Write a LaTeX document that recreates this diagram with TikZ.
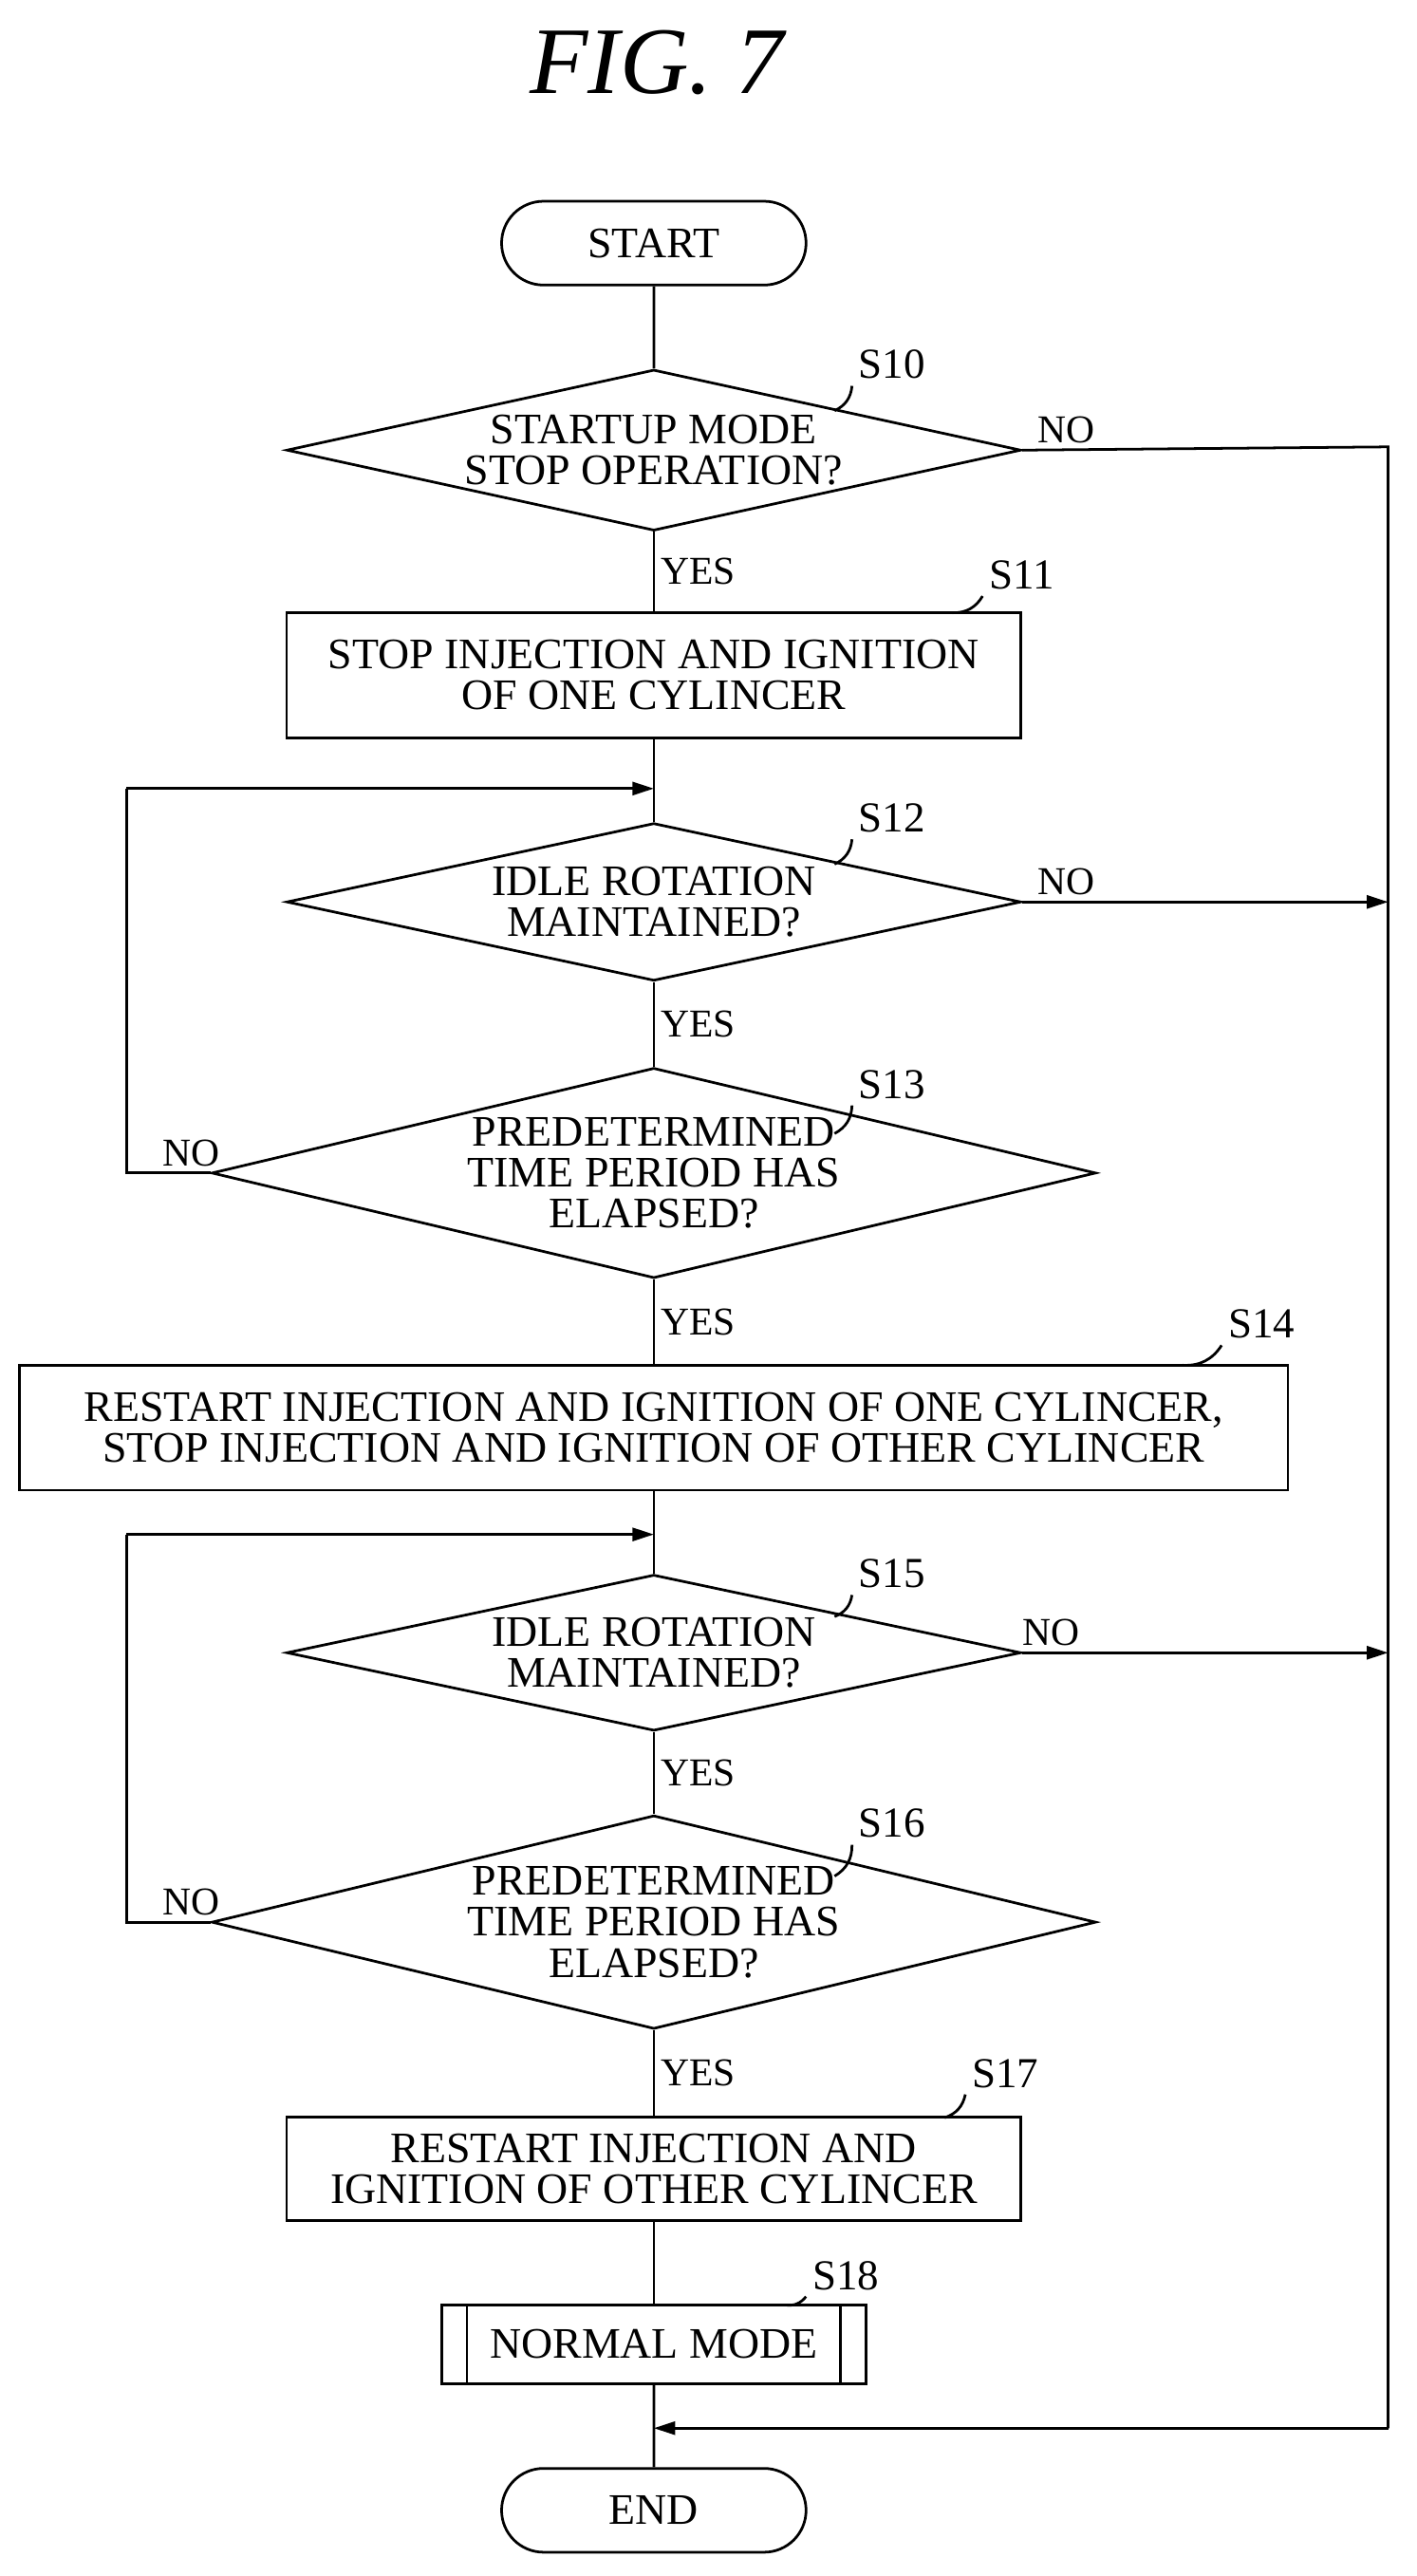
\documentclass[tikz,border=0pt]{standalone}
\usepackage{fontspec}
\setmainfont{Liberation Serif}
\usetikzlibrary{shapes.geometric,shapes.misc,arrows.meta}
\begin{document}
\begin{tikzpicture}[x=1pt,y=-1pt,line width=1.6pt,
  every node/.style={font=\fontsize{26.5}{25}\selectfont,align=center},
  dia/.style={draw,diamond,minimum width=447pt,minimum height=#1,aspect=4.6,inner sep=0pt},
  box/.style={draw,rectangle,minimum width=447pt,minimum height=#1,inner sep=2pt},
  term/.style={draw,rounded rectangle,minimum width=192pt,minimum height=51pt},
  arr/.style={-{Triangle[length=13pt,width=8pt]}},
  lbl/.style={font=\fontsize{26}{28}\selectfont},
  yn/.style={font=\fontsize{24}{26}\selectfont}]
\useasboundingbox (0,0) rectangle (862,1568);
\node[font=\fontsize{58}{60}\selectfont\itshape] (title) at (400,38) {FIG. 7};
\node[term] (start) at (398,148) {START};
\node[dia=98pt] (s10) at (398,274) {STARTUP MODE\\STOP OPERATION?};
\node[box=76pt] (s11) at (398,411) {STOP INJECTION AND IGNITION\\OF ONE CYLINCER};
\node[dia=96pt] (s12) at (398,549) {IDLE ROTATION\\MAINTAINED?};
\node[dia=128pt] (s13) at (398,714) {PREDETERMINED\\TIME PERIOD HAS\\ELAPSED?};
\node[draw,minimum width=772pt,minimum height=76pt] (s14) at (398,869) {RESTART INJECTION AND IGNITION OF ONE CYLINCER,\\STOP INJECTION AND IGNITION OF OTHER CYLINCER};
\node[dia=95pt] (s15) at (398,1006) {IDLE ROTATION\\MAINTAINED?};
\node[dia=130pt] (s16) at (398,1170) {PREDETERMINED\\TIME PERIOD HAS\\ELAPSED?};
\node[box=63pt] (s17) at (398,1320) {RESTART INJECTION AND\\IGNITION OF OTHER CYLINCER};
\node[draw,minimum width=258pt,minimum height=48pt] (s18) at (398,1427) {NORMAL MODE};
\draw (s18.north west)++(16,0) -- ++(0,48);
\draw (s18.north east)++(-16,0) -- ++(0,48);
\node[term] (end) at (398,1528) {END};
% labels
\node[lbl] (l10) at (543,222) {S10}; \draw (508,250) to[bend right=30] (l10.south west);
\node[lbl] (l11) at (622,350) {S11}; \draw (580,373) to[bend right=30] (l11.south west);
\node[lbl] (l12) at (543,498) {S12}; \draw (508,526) to[bend right=30] (l12.south west);
\node[lbl] (l13) at (543,660) {S13}; \draw (508,690) to[bend right=30] (l13.south west);
\node[lbl] (l14) at (768,806) {S14}; \draw (720,831) to[bend right=30] (l14.south west);
\node[lbl] (l15) at (543,958) {S15}; \draw (508,984) to[bend right=30] (l15.south west);
\node[lbl] (l16) at (543,1110) {S16}; \draw (508,1142) to[bend right=30] (l16.south west);
\node[lbl] (l17) at (612,1262) {S17}; \draw (575,1289) to[bend right=30] (l17.south west);
\node[lbl] (l18) at (515,1385) {S18}; \draw (478,1403) to[bend right=30] (l18.south west);
% coordinates
\coordinate (r1) at (845,272); \coordinate (r2) at (845,1478);
\coordinate (j) at (398,1478);
\coordinate (m12) at (845,549); \coordinate (m15) at (845,1006);
\coordinate (lp1) at (398,480); \coordinate (lp2) at (398,934);
\coordinate (a13) at (77,714); \coordinate (b13) at (77,480);
\coordinate (a16) at (77,1170); \coordinate (b16) at (77,934);
% main flow
\draw (start) -- (s10);
\draw (s10) -- node[yn,right,pos=0.5]{YES} (s11);
\draw (s11) -- (s12);
\draw (s12) -- node[yn,right]{YES} (s13);
\draw (s13) -- node[yn,right]{YES} (s14);
\draw (s14) -- (s15);
\draw (s15) -- node[yn,right]{YES} (s16);
\draw (s16) -- node[yn,right]{YES} (s17);
\draw (s17) -- (s18);
\draw (s18) -- (end);
% NO branches
\draw (s10.east) -- node[yn,above,pos=0.12]{NO} (r1) -- (r2);
\draw[arr] (r2) -- (j);
\draw[arr] (s12.east) -- node[yn,above,pos=0.12]{NO} (m12);
\draw[arr] (s15.east) -- node[yn,above,pos=0.08]{NO} (m15);
\draw (s13.west) -- node[yn,above,pos=0.23]{NO} (a13) -- (b13);
\draw[arr] (b13) -- (lp1);
\draw (s16.west) -- node[yn,above,pos=0.23]{NO} (a16) -- (b16);
\draw[arr] (b16) -- (lp2);
\end{tikzpicture}
\end{document}
